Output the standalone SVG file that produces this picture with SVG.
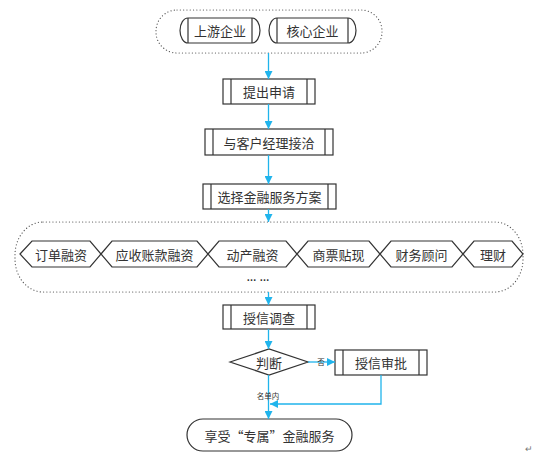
<svg xmlns="http://www.w3.org/2000/svg" width="537" height="467" viewBox="0 0 537 467">
<style>
.t{font-family:"Noto Sans CJK SC","Liberation Sans",sans-serif;font-size:13px;fill:#333;text-anchor:middle;dominant-baseline:central}
.s{font-family:"Noto Sans CJK SC","Liberation Sans",sans-serif;font-size:7.5px;fill:#333;text-anchor:middle;dominant-baseline:central}
.b{fill:#fff;stroke:#333;stroke-width:1.2}
.d{fill:none;stroke:#555;stroke-width:1.2;stroke-dasharray:0.1 3.2;stroke-linecap:round}
.c{fill:none;stroke:#20B4EC;stroke-width:1.3}
</style>
<defs>
<marker id="ah" viewBox="0 0 8 8" refX="8" refY="4" markerWidth="8" markerHeight="8" markerUnits="userSpaceOnUse" orient="auto">
<path d="M0,0 L8,4 L0,8 Z" fill="#20B4EC"/>
</marker>
</defs>

<g id="top-group">
<rect class="d" x="156" y="10" width="226" height="43" rx="21" ry="21"/>
</g>
<g id="upstream">
<path class="b" d="M188,18 H252 A8,12.5 0 0 1 252,43 H188 A8,12.5 0 0 1 188,18 Z"/>
<line class="b" x1="188" y1="18" x2="188" y2="43"/>
<line class="b" x1="252" y1="18" x2="252" y2="43"/>
<text class="t" x="220" y="30.5">上游企业</text>
</g>
<g id="core">
<path class="b" d="M277,18 H348 A8,12.5 0 0 1 348,43 H277 A8,12.5 0 0 1 277,18 Z"/>
<line class="b" x1="277" y1="18" x2="277" y2="43"/>
<line class="b" x1="348" y1="18" x2="348" y2="43"/>
<text class="t" x="312.5" y="30.5">核心企业</text>
</g>

<g id="apply">
<rect class="b" x="223" y="79" width="92" height="25"/>
<line class="b" x1="231" y1="79" x2="231" y2="104"/>
<line class="b" x1="307" y1="79" x2="307" y2="104"/>
<text class="t" x="269" y="91.5">提出申请</text>
</g>
<g id="manager">
<rect class="b" x="205" y="129" width="128" height="26"/>
<line class="b" x1="213" y1="129" x2="213" y2="155"/>
<line class="b" x1="325" y1="129" x2="325" y2="155"/>
<text class="t" x="269" y="142">与客户经理接洽</text>
</g>
<g id="choose">
<rect class="b" x="203" y="184" width="133" height="25"/>
<line class="b" x1="211" y1="184" x2="211" y2="209"/>
<line class="b" x1="328" y1="184" x2="328" y2="209"/>
<text class="t" x="269.5" y="196.5">选择金融服务方案</text>
</g>

<g id="products">
<rect class="d" x="15" y="222" width="508" height="70" rx="28" ry="33"/>
<g id="p1"><path class="b" fill="none" d="M20,254 L32,241 H90 L101,254 L90,267 H32 Z"/><text class="t" x="61" y="254">订单融资</text></g>
<g id="p2"><path class="b" d="M101,254 L112,241 H197 L208,254 L197,267 H112 Z"/><text class="t" x="154.5" y="254">应收账款融资</text></g>
<g id="p3"><path class="b" d="M208,254 L219,241 H286 L297,254 L286,267 H219 Z"/><text class="t" x="252.5" y="254">动产融资</text></g>
<g id="p4"><path class="b" d="M297,254 L308,241 H369 L380,254 L369,267 H308 Z"/><text class="t" x="338.5" y="254">商票贴现</text></g>
<g id="p5"><path class="b" d="M380,254 L391,241 H452 L463,254 L452,267 H391 Z"/><text class="t" x="421.5" y="254">财务顾问</text></g>
<g id="p6"><path class="b" d="M463,254 L474,241 H512 L523,254 L512,267 H474 Z"/><text class="t" x="493" y="254">理财</text></g>
<text x="258" y="281" font-family="Liberation Sans,sans-serif" font-size="10" font-weight="bold" fill="#333" text-anchor="middle">… …</text>
</g>

<g id="survey">
<rect class="b" x="223" y="305" width="92" height="24"/>
<line class="b" x1="231" y1="305" x2="231" y2="329"/>
<line class="b" x1="307" y1="305" x2="307" y2="329"/>
<text class="t" x="269" y="317">授信调查</text>
</g>
<g id="judge">
<path class="b" d="M230,362 L269,349 L308,362 L269,375 Z"/>
<text class="t" x="269" y="362">判断</text>
</g>
<g id="approve">
<rect class="b" x="335" y="350" width="92" height="25"/>
<line class="b" x1="343" y1="350" x2="343" y2="375"/>
<line class="b" x1="419" y1="350" x2="419" y2="375"/>
<text class="t" x="381" y="362.5">授信审批</text>
</g>
<g id="enjoy">
<rect class="b" x="187" y="419" width="165" height="32" rx="16" ry="16"/>
<text class="t" x="269.5" y="435">享受“专属”金融服务</text>
</g>

<g id="connectors">
<line class="c" x1="268.5" y1="53" x2="268.5" y2="79" marker-end="url(#ah)"/>
<line class="c" x1="268.5" y1="104" x2="268.5" y2="129" marker-end="url(#ah)"/>
<line class="c" x1="268.5" y1="155" x2="268.5" y2="184" marker-end="url(#ah)"/>
<line class="c" x1="268.5" y1="209" x2="268.5" y2="222" marker-end="url(#ah)"/>
<line class="c" x1="268.5" y1="292" x2="268.5" y2="305" marker-end="url(#ah)"/>
<line class="c" x1="268.5" y1="329" x2="268.5" y2="349" marker-end="url(#ah)"/>
<line class="c" x1="268.5" y1="375" x2="268.5" y2="419" marker-end="url(#ah)"/>
<line class="c" x1="308" y1="362" x2="335" y2="362" marker-end="url(#ah)"/>
<polyline class="c" points="381,375 381,404 270,404" marker-end="url(#ah)"/>
<text class="s" x="321" y="361">否</text>
<text class="s" x="268" y="395">名单内</text>
</g>
<text x="529" y="452" font-family="Liberation Sans,sans-serif" font-size="9" fill="#777" text-anchor="middle">↵</text>
</svg>
